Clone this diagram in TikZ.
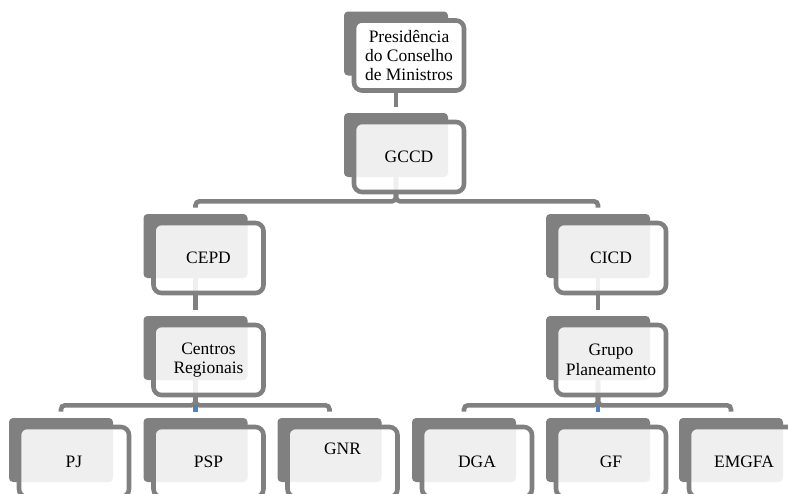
\documentclass[tikz,border=0pt]{standalone}
\usepackage{fontspec}
\setmainfont{Liberation Serif}
\usetikzlibrary{positioning}
\definecolor{boxgray}{HTML}{808080}
\definecolor{linegray}{HTML}{808080}
\definecolor{tickblue}{HTML}{4F81BD}
\tikzset{back/.style={fill=boxgray,rounded corners=3pt,minimum width=78pt,minimum height=48pt,inner sep=0pt}}
\tikzset{front/.style={draw=linegray,line width=3.4pt,rounded corners=6pt,fill=white,fill opacity=0.88,text opacity=1,
    minimum width=82.5pt,minimum height=52.5pt,inner sep=0pt,align=center,font=\fontsize{13.1}{14.6}\selectfont}}
\tikzset{link/.style={draw=linegray,line width=3.4pt,rounded corners=3pt,shorten >=4.5pt}}
\tikzset{stub/.style={draw=tickblue,line width=3.4pt}}

\begin{document}
\begin{tikzpicture}[x=0.75pt,y=-0.75pt,node distance=9pt and 9.75pt,on grid]
        \clip (0,0) rectangle (788,493);
        \node[back] (PresB) at (396,43.5) {};
        \node[back] (GCCDB) at (396,145) {};
        \node[back] (CEPDB) at (195.5,246) {};
        \node[back] (CICDB) at (598,246) {};
        \node[back] (CRB) at (195.5,348) {};
        \node[back] (GPB) at (598,348) {};
        \node[back] (PJB) at (61,450) {};
        \node[back] (PSPB) at (195.5,450) {};
        \node[back] (GNRB) at (329.5,450) {};
        \node[back] (DGAB) at (464,450) {};
        \node[back] (GFB) at (598,450) {};
        \node[back] (EMGFAB) at (731,450) {};
        \draw[link] (PresB.south) -- (GCCDB.north);
        \draw[link] (GCCDB.south) -- ++(0,24) -| (CEPDB.north);
        \draw[link] (GCCDB.south) -- ++(0,24) -| (CICDB.north);
        \draw[link] (CEPDB.south) -- (CRB.north);
        \draw[link] (CICDB.south) -- (GPB.north);
        \draw[link] (CRB.south) -- ++(0,25) -| (PJB.north);
        \draw[link] (CRB.south) -- ++(0,25) -| (GNRB.north);
        \draw[stub] ([yshift=9.75pt]PSPB.north) -- ([yshift=4.5pt]PSPB.north);
        \draw[link] (GPB.south) -- ++(0,25) -| (DGAB.north);
        \draw[link] (GPB.south) -- ++(0,25) -| (EMGFAB.north);
        \draw[stub] ([yshift=9.75pt]GFB.north) -- ([yshift=4.5pt]GFB.north);
        \node[front, fill opacity=1, below right=of PresB] (Pres) {Presidência\\do Conselho\\de Ministros};
        \node[front, below right=of GCCDB] (GCCD) {GCCD};
        \node[front, below right=of CEPDB] (CEPD) {CEPD};
        \node[front, below right=of CICDB] (CICD) {CICD};
        \node[front, below right=of CRB] (CR) {Centros\\Regionais};
        \node[front, below right=of GPB] (GP) {Grupo\\Planeamento};
        \node[front, below right=of PJB] (PJ) {PJ};
        \node[front, below right=of PSPB] (PSP) {PSP};
        \node[front, below right=of GNRB] (GNR) {\raisebox{19.5pt}{GNR}};
        \node[front, below right=of DGAB] (DGA) {DGA};
        \node[front, below right=of GFB] (GF) {GF};
        \node[front, below right=of EMGFAB] (EMGFA) {EMGFA};
    \end{tikzpicture}
\end{document}
